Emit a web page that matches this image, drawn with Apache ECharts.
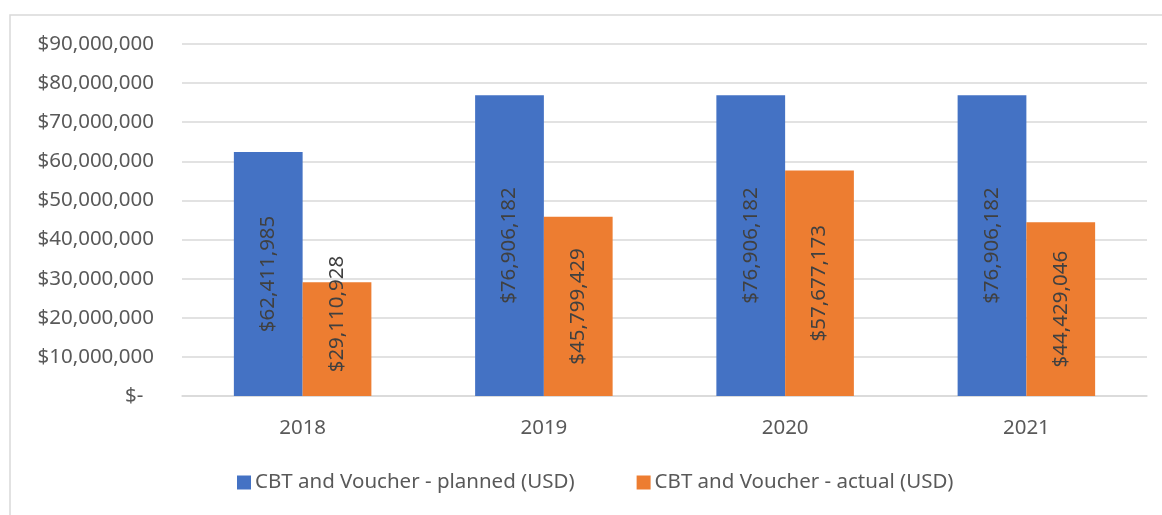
<!DOCTYPE html>
<html>
<head>
<meta charset="utf-8">
<script src="https://cdn.jsdelivr.net/npm/echarts@6/dist/echarts.min.js"></script>
<style>
  html, body { margin: 0; padding: 0; background: #ffffff; }
  #chart { width: 1162px; height: 515px; }
</style>
</head>
<body>
<div id="chart"></div>
<script>
// Cash-based transfer and voucher budget per year
const years = ['2018', '2019', '2020', '2021'];
const plannedUSD = [62411985, 76906182, 76906182, 76906182];
const actualUSD = [29110928, 45799429, 57677173, 44429046];
const seriesNames = ['CBT and Voucher - planned (USD)', 'CBT and Voucher - actual (USD)'];
const yTicks = { min: 0, max: 90000000, interval: 10000000 };

const FONT = '"Noto Sans", "Open Sans", sans-serif';
const FONT_SIZE = 20.5;
const TEXT = '#595959';

function usd(v) {
  if (v === 0) return '$-  ';
  return '$' + Math.round(v).toLocaleString('en-US');
}

// Labels run bottom-to-top; the offset is along the text direction (upwards)
function barLabel(lift) {
  return {
    show: true,
    position: 'inside',
    rotate: 90,
    offset: [lift, 0],
    color: '#404040',
    fontFamily: FONT,
    fontSize: FONT_SIZE,
    formatter: p => usd(p.value)
  };
}

// A short bar whose label is longer than the bar gets its label lifted off the axis
function withLabels(values) {
  return values.map(v => v < 35000000 ? { value: v, label: barLabel(25) } : v);
}

const chart = echarts.init(document.getElementById('chart'));
chart.setOption({
  backgroundColor: '#ffffff',
  animation: false,
  color: ['#4472C4', '#ED7D31'],
  graphic: [{
    type: 'rect',
    shape: { x: 10, y: 15, width: 1300, height: 700 },
    style: { fill: 'none', stroke: '#d9d9d9', lineWidth: 1.5 },
    silent: true
  }],
  grid: { left: 182, right: 15, top: 44, bottom: 119, containLabel: false },
  legend: {
    left: 237,
    top: 472,
    padding: 0,
    itemWidth: 14,
    itemHeight: 14,
    itemGap: 62,
    icon: 'rect',
    textStyle: { color: TEXT, fontFamily: FONT, fontSize: FONT_SIZE, padding: [0, 0, 0, -1] },
    data: seriesNames
  },
  xAxis: {
    type: 'category',
    data: years,
    axisLine: { show: true, lineStyle: { color: '#d9d9d9', width: 1.5 } },
    axisTick: { show: false },
    axisLabel: { color: TEXT, fontFamily: FONT, fontSize: FONT_SIZE, margin: 22 }
  },
  yAxis: {
    type: 'value',
    min: yTicks.min,
    max: yTicks.max,
    interval: yTicks.interval,
    axisLine: { show: false },
    axisTick: { show: false },
    splitLine: { lineStyle: { color: '#d9d9d9', width: 1.5 } },
    axisLabel: { color: TEXT, fontFamily: FONT, fontSize: FONT_SIZE, margin: 28, formatter: usd }
  },
  series: [
    {
      name: seriesNames[0],
      type: 'bar',
      data: withLabels(plannedUSD),
      barGap: '0%',
      barCategoryGap: '43%',
      label: barLabel(0)
    },
    {
      name: seriesNames[1],
      type: 'bar',
      data: withLabels(actualUSD),
      barGap: '0%',
      barCategoryGap: '43%',
      label: barLabel(0)
    }
  ]
});
</script>
</body>
</html>
